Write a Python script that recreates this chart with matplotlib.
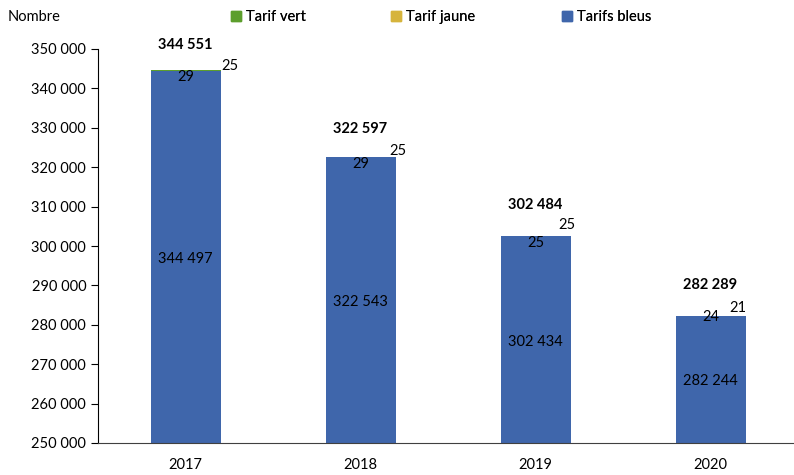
import matplotlib
matplotlib.use("Agg")
import matplotlib.pyplot as plt
from matplotlib.ticker import FuncFormatter, MultipleLocator
from matplotlib.patches import Patch

plt.rcParams['font.family'] = ['Lato', 'DejaVu Sans']

years = ["2017", "2018", "2019", "2020"]
bleus = [344497, 322543, 302434, 282244]
jaune = [29, 29, 25, 24]
vert = [25, 25, 25, 21]
totals = [344551, 322597, 302484, 282289]

c_blue = "#3F66AB"
c_yellow = "#D6B43C"
c_green = "#5C9E2C"

# label offsets in pixels (style only)
tot_dy = [25, 28, 31, 31]
vert_dx = [9, 2, -4, -8]
vert_dy = [4, 6, 11, 8]
jaune_dy = [-7, -7, -7, -1.5]

def fmt(v):
    return f"{int(v):,}".replace(",", " ")

PX = 72 / 100.0

fig = plt.figure(figsize=(7.94, 4.75), dpi=100)
ax = fig.add_axes([98/794, 1 - 443/475, 700/794, (443-49)/475])

x = list(range(len(years)))
w = 0.4
b1 = ax.bar(x, bleus, w, color=c_blue, label="Tarifs bleus", zorder=2)
b2 = ax.bar(x, jaune, w, bottom=bleus, color=c_yellow, label="Tarif jaune", zorder=2)
bottom3 = [a + b for a, b in zip(bleus, jaune)]
b3 = ax.bar(x, vert, w, bottom=bottom3, color=c_green, label="Tarif vert", zorder=2)

ymin, ymax = 250000, 350000
ax.set_ylim(ymin, ymax)
ax.set_xlim(-0.5, 3.5)
ax.yaxis.set_major_locator(MultipleLocator(10000))
ax.yaxis.set_major_formatter(FuncFormatter(lambda v, p: fmt(v)))
ax.set_xticks(x)
ax.set_xticklabels(years)
ax.tick_params(axis='y', labelsize=10.5, length=5, direction='out')
ax.tick_params(axis='x', labelsize=10.5, length=0, pad=11)
for s in ["top", "right"]:
    ax.spines[s].set_visible(False)
ax.spines["left"].set_color("#000000")
ax.spines["bottom"].set_color("#404040")
ax.spines["bottom"].set_clip_on(False)

for i in x:
    top = totals[i]
    ax.annotate(fmt(bleus[i]), (i, (ymin + bleus[i]) / 2), xytext=(0, -2 * PX),
                textcoords='offset points', ha='center', va='center', fontsize=10.5)
    ax.annotate(fmt(jaune[i]), (i, top), xytext=(0, jaune_dy[i] * PX), textcoords='offset points',
                ha='center', va='center', fontsize=10.5)
    ax.annotate(fmt(vert[i]), (i + w / 2, top), xytext=(vert_dx[i] * PX, vert_dy[i] * PX),
                textcoords='offset points', ha='center', va='center', fontsize=10.5)
    ax.annotate(fmt(totals[i]), (i, top), xytext=(0, tot_dy[i] * PX), textcoords='offset points',
                ha='center', va='center', fontsize=10.5, fontweight='bold')

fig.text(8/794, 1 - 17/475, "Nombre", ha='left', va='center', fontsize=10.5)

leg_items = [("Tarif vert", c_green, 231), ("Tarif jaune", c_yellow, 391), ("Tarifs bleus", c_blue, 562)]
for lab, col, xpx in leg_items:
    lg = fig.legend([Patch(color=col)], [lab], loc='center left',
                    bbox_to_anchor=(xpx/794, 1 - 17/475), frameon=False,
                    fontsize=10.5, handlelength=0.7, handleheight=0.7, handletextpad=0.3,
                    borderpad=0, borderaxespad=0)
    fig.add_artist(lg)

fig.savefig("out.png", dpi=100)
